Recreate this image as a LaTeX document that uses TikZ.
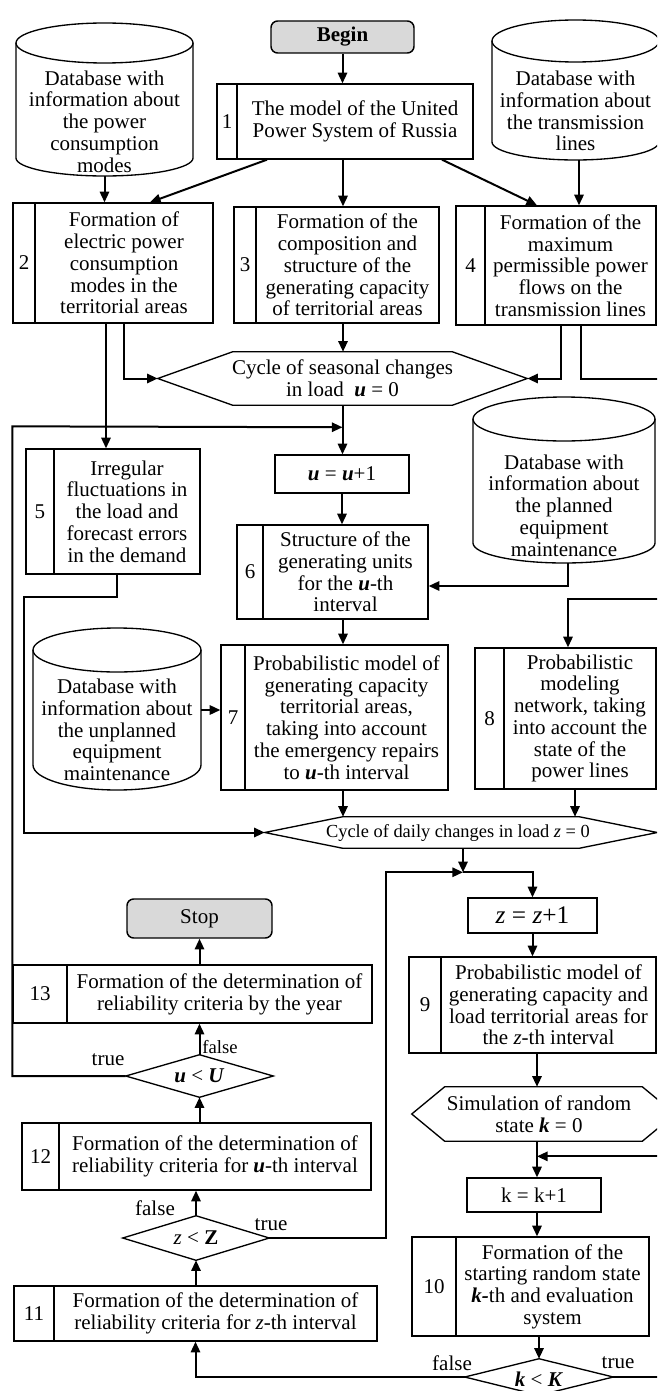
\documentclass[tikz,border=0pt]{standalone}
\usepackage{fontspec}
\setmainfont{Liberation Serif}
\usetikzlibrary{arrows.meta,calc,fit}
\def\U{0.75pt}
\newcommand\bi[1]{\textbf{\textit{#1}}}
\tikzset{
 box/.style={draw, line width=1pt},
 conn/.style={line width=1.5pt},
 arr/.style={conn, -{Triangle[length=8pt,width=7pt]}},
 txt/.style={align=center, inner sep=0pt, font=\fontsize{15.75}{16.3}\selectfont},
 term/.style={draw, line width=1.1pt, rounded corners=5pt, fill=black!15, inner sep=0pt, font=\fontsize{15.75}{16.3}\selectfont},
 lbl/.style={inner sep=0pt, font=\fontsize{15.75}{16.3}\selectfont},
}
\newcommand\nbox[8]{%
 \node[box, inner sep=0pt, fit={(#2,#3)(#4,#5)}] (#1) {};
 \draw[box] (#6,#3) -- (#6,#5);
 \node[txt] (#1-n) at ($(#2,#3)!0.5!(#6,#5)$) {#7};
 \node[txt] (#1-t) at ($(#6,#3)!0.5!(#4,#5)$) {#8};
}
\newcommand\dbase[9]{%
 \draw[box] ({(#2+#3)/2},{#4+#5}) ellipse [x radius={(#3-#2)/2*\U}, y radius={#5*\U}];
 \draw[box] (#2,{#4+#5}) -- (#2,#6) arc[start angle=180, end angle=360, x radius={(#3-#2)/2*\U}, y radius={#7*\U}] -- (#3,{#4+#5});
 \node[txt] (#1) at ({(#2+#3)/2},#8) {#9};
 \coordinate (#1-b) at ({(#2+#3)/2},{#6+#7});
 \coordinate (#1-e) at (#3,#8);
}
\newcommand\hexa[2]{%
 \draw[box] (#1.west) -- ([xshift=#2*\U]#1.north west) -- ([xshift=-#2*\U]#1.north east) -- (#1.east) -- ([xshift=-#2*\U]#1.south east) -- ([xshift=#2*\U]#1.south west) -- cycle;
}
\newcommand\dia[1]{%
 \draw[box] (#1.north) -- (#1.east) -- (#1.south) -- (#1.west) -- cycle;
}
\begin{document}
\begin{tikzpicture}[x=0.75pt,y=-0.75pt]
\useasboundingbox (0,0) rectangle (657,1391);
\clip (0,0) rectangle (657,1391);

% terminals
\node[term, minimum width=143*\U, minimum height=32*\U] (begin) at (342.5,37) {\textbf{Begin}};
\node[term, minimum width=145*\U, minimum height=39*\U] (stop) at (199.5,918.5) {Stop};

% numbered boxes
\nbox{b1}{217}{84}{473}{159}{237}{1}{The model of the United\\Power System of Russia}
\nbox{b2}{13}{203}{213}{323}{35}{2}{Formation of\\electric power\\consumption\\modes in the\\territorial areas}
\nbox{b3}{234}{207}{439}{323}{256}{3}{Formation of the\\composition and\\structure of the\\generating capacity\\of territorial areas}
\nbox{b4}{456}{206}{656}{325}{485}{4}{Formation of the\\maximum\\permissible power\\flows on the\\transmission lines}
\nbox{b5}{26}{449}{200}{574}{54}{5}{Irregular\\fluctuations in\\the load and\\forecast errors\\in the demand}
\nbox{b6}{237}{525}{428}{619}{263}{6}{Structure of the\\generating units\\for the \bi{u}-th\\interval}
\nbox{b7}{221}{645}{448}{790}{245}{7}{Probabilistic model of\\generating capacity\\territorial areas,\\taking into account\\the emergency repairs\\to \bi{u}-th interval}
\nbox{b8}{475}{648}{656}{789}{504}{8}{Probabilistic\\modeling\\network, taking\\into account the\\state of the\\power lines}
\nbox{b9}{409}{957}{656}{1053}{441}{9}{Probabilistic model of\\generating capacity and\\load territorial areas for\\the \textit{z}-th interval}
\nbox{b10}{412}{1237}{649}{1336}{456}{10}{Formation of the\\starting random state\\\bi{k-}th and evaluation\\system}
\nbox{b11}{14}{1286}{377}{1341}{54}{11}{Formation of the determination of\\reliability criteria for \textit{z}-th interval}
\nbox{b12}{22}{1123}{371}{1190}{59}{12}{Formation of the determination of\\reliability criteria for \bi{u}-th interval}
\nbox{b13}{13}{965}{372}{1023}{67}{13}{Formation of the determination of\\reliability criteria by the year}

% plain boxes
\node[box, txt, minimum width=134*\U, minimum height=38*\U] (uu) at (342,474) {\bi{u} = \bi{u}+1};
\node[box, txt, minimum width=129*\U, minimum height=35*\U, font=\fontsize{19}{20}\selectfont] (zz) at (532.5,915.5) {\textit{z} = \textit{z}+1};
\node[box, txt, minimum width=134*\U, minimum height=34*\U] (kk) at (534,1195) {k = k+1};

% hexagons
\node[fit={(158,352)(527,405)}, inner sep=0pt] (h1) {};
\hexa{h1}{75}
\node[txt] (h1-t) at (h1.center) {Cycle of seasonal changes\\in load~~\bi{u} = 0};
\node[fit={(265,817)(657,848)}, inner sep=0pt] (h2) {};
\hexa{h2}{78}
\node[txt, font=\fontsize{13.8}{15}\selectfont] (h2-t) at (458,832.5) {Cycle of daily changes in load \textit{z} = 0};
\node[fit={(412,1087)(675,1141)}, inner sep=0pt] (h3) {};
\hexa{h3}{33}
\node[txt] (h3-t) at (539,1114) {Simulation of random\\state \bi{k} = 0};

% diamonds
\node[fit={(126,1055)(273,1097)}, inner sep=0pt] (uU) {};
\dia{uU}
\node[txt] (uU-t) at (uU.center) {\bi{u} < \bi{U}};
\node[fit={(123,1216)(269,1260)}, inner sep=0pt] (zZ) {};
\dia{zZ}
\node[txt] (zZ-t) at (zZ.center) {\textit{z} < \textbf{Z}};
\node[fit={(465,1359)(613,1395)}, inner sep=0pt] (kK) {};
\dia{kK}
\node[txt] (kK-t) at (539,1379.5) {\bi{k} < \bi{K}};

% databases
\dbase{db1}{16}{193}{23}{20}{158}{18}{121.5}{Database with\\information about\\the power\\consumption\\modes}
\dbase{db2}{492}{659}{20}{21}{142}{18}{111}{Database with\\information about\\the transmission\\lines}
\dbase{db3}{473}{655}{397}{22}{543}{20}{505.5}{Database with\\information about\\the planned\\equipment\\maintenance}
\dbase{db4}{33}{201}{628}{22}{765}{25}{730}{Database with\\information about\\the unplanned\\equipment\\maintenance}

% labels
\node[lbl] (lf3) at (452,1363) {false};
\node[lbl] (lt3) at (618,1363) {true};
\node[lbl] (lf2) at (155,1208) {false};
\node[lbl] (lt2) at (271,1225) {true};
\node[lbl, font=\fontsize{14}{15}\selectfont] (lf1) at (220,1047) {false};
\node[lbl] (lt1) at (108,1060) {true};

% connectors
\draw[arr] (begin.south) -- (begin.south |- b1.north);
\draw[arr] ([xshift=-78*\U]b1.south) -- ([xshift=37*\U]b2.north);
\draw[arr] ([xshift=-2*\U]b1.south) coordinate (t) -- (t |- b3.north);
\draw[arr] ([xshift=97*\U]b1.south) -- ([xshift=-19*\U]b4.north);
\draw[arr] (db1-b) -- (db1-b |- b2.north);
\draw[arr] ([xshift=3.5*\U]db2-b) coordinate (t) -- (t |- b4.north);
\draw[arr] ([xshift=11*\U]b2.south) coordinate (t) |- (h1.west);
\draw[arr] ([xshift=6.5*\U]b3.south) coordinate (t) -- (t |- h1.north);
\draw[arr] ([xshift=5*\U]b4.south) coordinate (t) |- (h1.east);
\draw[arr] ([xshift=25*\U]b4.south) |- ($(h1.east)+(143,0)$) |- ($(b8.north)+(2.5,-48)$) -- ([xshift=2.5*\U]b8.north);
\draw[arr] ([xshift=-7*\U]b2.south) coordinate (t) -- (t |- b5.north);
\draw[arr] (uU.west) -| ($(b13.north west)+(0,-538)$) -- ($(h1.south)+(0,22)$);
\draw[arr] (h1.south) -- (h1.south |- uu.north);
\draw[arr] (uu.south) -- (uu.south |- b6.north);
\draw[arr] ([xshift=4*\U]db3-b) |- ([yshift=-14*\U]b6.east);
\draw[arr] ([xshift=4*\U]b5.south) |- ($(b5.south west)+(-1,22)$) |- (h2.west);
\draw[arr] ([xshift=10.5*\U]b6.south) coordinate (t) -- (t |- b7.north);
\draw[arr] ([yshift=20*\U]db4-e) coordinate (t) -- (t -| b7.west);
\draw[arr] ([xshift=8.5*\U]b7.south) coordinate (t) -- (t |- h2.north);
\draw[arr] ([xshift=9.5*\U]b8.south) coordinate (t) -- (t |- h2.north);
\coordinate (mg) at ($(h2.south)+(2,24)$);
\draw[arr] (h2.south -| mg) -- (mg);
\draw[arr] (zZ.east) -| ($(mg)+(-77,0)$) -- (mg);
\draw[arr] (mg) -| (zz.north);
\draw[arr] (zz.south) -- (zz.south |- b9.north);
\draw[arr] ([xshift=4.5*\U]b9.south) coordinate (t) -- (t |- h3.north);
\coordinate (kin) at ([xshift=3*\U]kk.north);
\draw[arr] (h3.south -| kin) -- (kin);
\draw[arr] (kK.east) -- ++(65,0) |- ($(kin)+(0,-21)$);
\draw[arr] ([xshift=3*\U]kk.south) coordinate (t) -- (t |- b10.north);
\draw[arr] (b10.south -| kK.north) -- (kK.north);
\draw[arr] (kK.west) -| (b11.south);
\draw[arr] (b11.north -| zZ.south) -- (zZ.south);
\draw[arr] (zZ.north) -- (zZ.north |- b12.south);
\draw[arr] (b12.north -| uU.south) -- (uU.south);
\draw[arr] (uU.north) -- (uU.north |- b13.south);
\draw[arr] (b13.north -| stop.south) -- (stop.south);
\end{tikzpicture}
\end{document}
